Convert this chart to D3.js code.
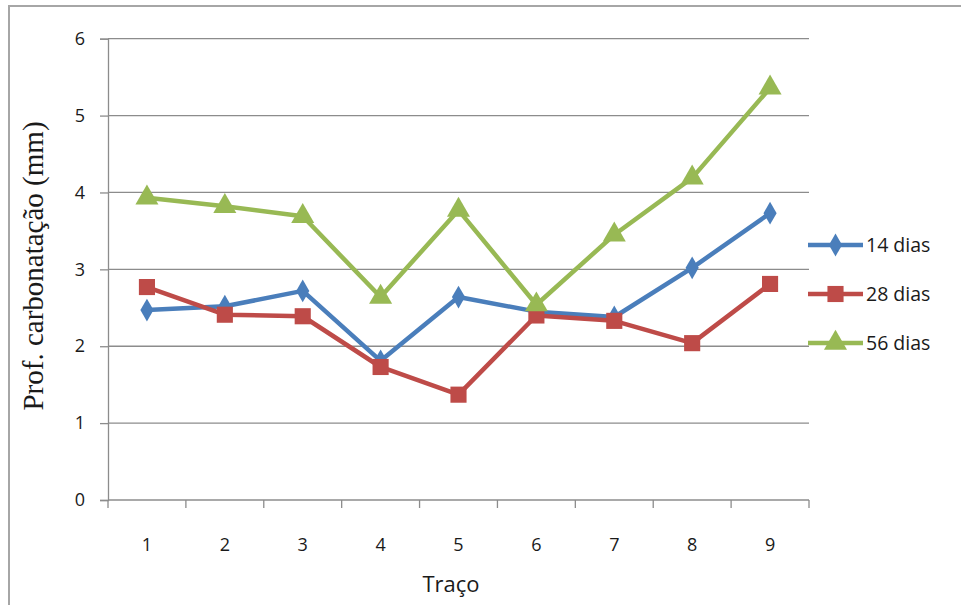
<!DOCTYPE html>
<html>
<head>
<meta charset="utf-8">
<script src="https://cdn.jsdelivr.net/npm/d3@7"></script>
<style>
  html, body { margin: 0; padding: 0; background: #fff; }
  svg { display: block; }
</style>
</head>
<body>
<svg id="chart" width="961" height="605"></svg>
<script>
// Carbonation depth by mix (traço) and curing age
const categories = ["1", "2", "3", "4", "5", "6", "7", "8", "9"];
const seriesNames = ["14 dias", "28 dias", "56 dias"];
const dias14 = [2.47, 2.52, 2.72, 1.81, 2.64, 2.45, 2.38, 3.02, 3.73];
const dias28 = [2.77, 2.41, 2.39, 1.73, 1.37, 2.40, 2.33, 2.04, 2.81];
const dias56 = [3.93, 3.82, 3.69, 2.64, 3.77, 2.54, 3.45, 4.19, 5.36];
const yTicks = [0, 1, 2, 3, 4, 5, 6];

const colors = ["#4a7ebb", "#be4b48", "#98b954"];
const markers = [d3.symbolDiamond, d3.symbolSquare, d3.symbolTriangle];
const markerSizes = [150, 260, 230];
const series = [dias14, dias28, dias56].map((values, i) => ({
  name: seriesNames[i], values, color: colors[i], symbol: markers[i], size: markerSizes[i]
}));

const sans = "'Open Sans', 'Liberation Sans', sans-serif";
const svg = d3.select("#chart");
const plot = { left: 108, right: 809, top: 38.7, bottom: 500 };

// outer chart frame
svg.append("path")
  .attr("d", "M9,605 V6 H961")
  .attr("fill", "none")
  .attr("stroke", "#a6a6a6")
  .attr("stroke-width", 2);

const x = d3.scaleBand().domain(categories).range([plot.left, plot.right]).padding(0);
const y = d3.scaleLinear().domain([0, 6]).range([plot.bottom, plot.top]);
const cx = c => x(c) + x.bandwidth() / 2;

// horizontal gridlines
svg.append("g")
  .selectAll("line")
  .data(yTicks.filter(t => t > 0))
  .join("line")
  .attr("x1", plot.left).attr("x2", plot.right)
  .attr("y1", d => y(d)).attr("y2", d => y(d))
  .attr("stroke", "#8c8c8c").attr("stroke-width", 1.3);

// y axis
const yAxis = svg.append("g")
  .attr("transform", `translate(${plot.left},0)`)
  .call(d3.axisLeft(y).tickValues(yTicks).tickSize(8).tickPadding(15).tickFormat(d3.format("d")));
yAxis.select(".domain").attr("stroke", "#8c8c8c").attr("stroke-width", 1.3);
yAxis.selectAll(".tick line").attr("stroke", "#8c8c8c").attr("stroke-width", 1.3);
yAxis.selectAll(".tick text")
  .attr("font-family", sans)
  .attr("font-size", 18).attr("fill", "#1a1a1a");

// x axis: ticks on category boundaries
const boundaries = categories.map(c => x(c)).concat([plot.right]);
const xg = svg.append("g");
xg.append("line")
  .attr("x1", plot.left).attr("x2", plot.right)
  .attr("y1", plot.bottom).attr("y2", plot.bottom)
  .attr("stroke", "#8c8c8c").attr("stroke-width", 1.3);
xg.selectAll("line.tk")
  .data(boundaries)
  .join("line").attr("class", "tk")
  .attr("x1", d => d).attr("x2", d => d)
  .attr("y1", plot.bottom).attr("y2", plot.bottom + 8)
  .attr("stroke", "#8c8c8c").attr("stroke-width", 1.3);
xg.selectAll("text")
  .data(categories)
  .join("text")
  .attr("x", d => cx(d)).attr("y", 551)
  .attr("text-anchor", "middle")
  .attr("font-family", sans)
  .attr("font-size", 18).attr("fill", "#1a1a1a")
  .text(d => d);

// axis titles
svg.append("text")
  .attr("x", 451).attr("y", 592)
  .attr("text-anchor", "middle")
  .attr("font-family", sans)
  .attr("font-size", 22).attr("fill", "#1a1a1a")
  .text("Traço");
svg.append("text")
  .attr("transform", "translate(43,266) rotate(-90)")
  .attr("text-anchor", "middle")
  .attr("font-family", "'Liberation Serif', 'Times New Roman', serif")
  .attr("font-size", 29).attr("fill", "#1a1a1a")
  .text("Prof. carbonatação (mm)");

// series lines and markers
const line = d3.line().x((d, i) => cx(categories[i])).y(d => y(d));
series.forEach(s => {
  const g = svg.append("g");
  g.append("path")
    .attr("d", line(s.values))
    .attr("fill", "none")
    .attr("stroke", s.color)
    .attr("stroke-width", 4.5)
    .attr("stroke-linejoin", "round");
  g.selectAll("path.m")
    .data(s.values)
    .join("path").attr("class", "m")
    .attr("d", d3.symbol().type(s.symbol).size(s.size))
    .attr("transform", (d, i) => `translate(${cx(categories[i])},${y(d)})`)
    .attr("fill", s.color);
});

// legend
const legendY = [245, 294, 343];
series.forEach((s, i) => {
  const g = svg.append("g").attr("transform", `translate(808,${legendY[i]})`);
  g.append("line").attr("x1", 0).attr("x2", 55).attr("y1", 0).attr("y2", 0)
    .attr("stroke", s.color).attr("stroke-width", 4.5);
  g.append("path")
    .attr("d", d3.symbol().type(s.symbol).size(s.size))
    .attr("transform", "translate(27.5,0)")
    .attr("fill", s.color);
  g.append("text")
    .attr("x", 58).attr("y", 7)
    .attr("font-family", sans)
    .attr("font-size", 19.5).attr("fill", "#1a1a1a")
    .text(s.name);
});
</script>
</body>
</html>
